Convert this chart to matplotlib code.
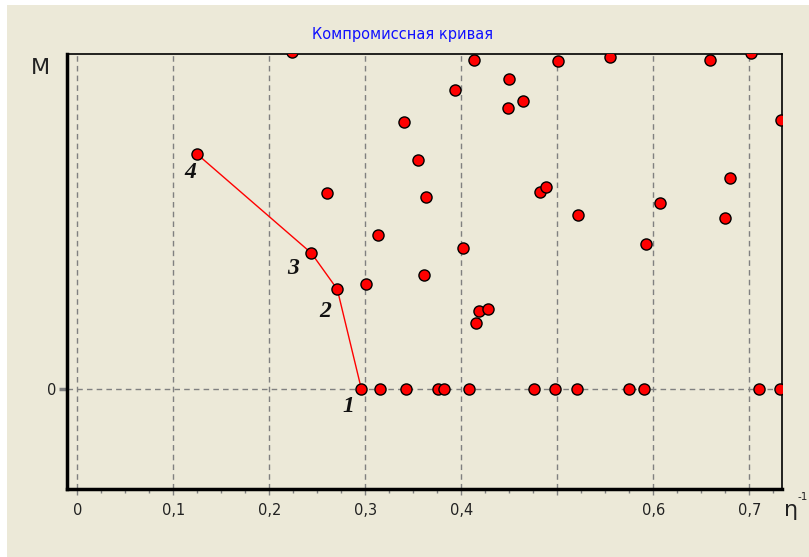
import numpy as np
import matplotlib
matplotlib.use('Agg')
import matplotlib.pyplot as plt
from matplotlib.patches import Rectangle

# Все варианты: η^-1 и M (M в условных единицах, верх графика = 10)
eta_inv = [0.3153, 0.3421, 0.3761, 0.3820, 0.4083, 0.4754, 0.4973, 0.5202, 0.5750, 0.5900, 0.7098, 0.7320,
           0.2236, 0.4136, 0.5004, 0.5546, 0.6591, 0.7018,
           0.3931, 0.4500, 0.4643, 0.4483, 0.3403, 0.7327,
           0.3549, 0.2598, 0.3629, 0.4817, 0.4882, 0.5219, 0.6070, 0.6799, 0.6750,
           0.3135, 0.4021, 0.5924, 0.3611, 0.3007, 0.4153, 0.4181, 0.4278]
M = [0, 0, 0, 0, 0, 0, 0, 0, 0, 0, 0, 0,
     10.05, 9.83, 9.80, 9.92, 9.83, 10.03,
     8.92, 9.25, 8.60, 8.39, 7.97, 8.02,
     6.83, 5.84, 5.74, 5.89, 6.02, 5.19, 5.56, 6.29, 5.11,
     4.59, 4.19, 4.33, 3.39, 3.12, 1.97, 2.33, 2.37]

# Компромиссная кривая (точки 1-4)
pareto_x = [0.2958, 0.2708, 0.2438, 0.1247]
pareto_y = [0.0, 2.97, 4.05, 7.01]
pareto_labels = ['1', '2', '3', '4']
label_offsets = [(-9, -13), (-9, -16), (-13, -11), (-5, -13)]

x_ticks = [0, 0.1, 0.2, 0.3, 0.4, 0.5, 0.6, 0.7]
x_tick_labels = ['0', '0,1', '0,2', '0,3', '0,4', '', '0,6', '0,7']

bg = '#ECE9D8'
grey = '#808080'

fig = plt.figure(figsize=(8.09, 5.57), dpi=100, facecolor='white')
fig.patches.append(Rectangle((7 / 809, 0), 1, 1 - 5 / 557, transform=fig.transFigure,
                             facecolor=bg, edgecolor='none', zorder=-10))

ax = fig.add_axes([67 / 809, 68 / 557, 714.7 / 809, 435 / 557])
ax.set_zorder(1)
ax.set_facecolor(bg)
ax.set_xlim(-0.01073, 0.73375)
ax.set_ylim(-3.0, 10.0)

# Сетка: вертикальные линии и горизонталь M = 0
for xv in x_ticks:
    ax.axvline(xv, color=grey, linestyle=(0, (4, 3)), linewidth=1, zorder=1)
ax.axhline(0, color=grey, linestyle=(0, (4, 3)), linewidth=1, zorder=1)

ax.plot(pareto_x, pareto_y, color='red', linewidth=1, zorder=2)
ax.scatter(eta_inv, M, s=64, c='red', edgecolors='black', linewidths=1, zorder=3, clip_on=True)
ax.scatter(pareto_x, pareto_y, s=64, c='red', edgecolors='black', linewidths=1, zorder=3, clip_on=True)

for px, py, lab, off in zip(pareto_x, pareto_y, pareto_labels, label_offsets):
    ax.annotate(lab, (px, py), xytext=off, textcoords='offset points', ha='center', va='center',
                fontsize=17, style='italic', fontweight='bold', family='Liberation Serif', color='#111111')

# Оси
ax.set_xticks(x_ticks)
ax.set_xticklabels(x_tick_labels)
ax.set_xticks(np.arange(0, 0.74, 0.025), minor=True)
ax.set_yticks([0])
ax.set_yticklabels(['0'])
ax.tick_params(axis='x', which='major', length=4, width=1, color=grey, pad=6, labelsize=10.5, labelcolor='#222222')
ax.tick_params(axis='x', which='minor', length=3, width=1, color=grey)
ax.tick_params(axis='y', length=6, width=2.5, color=grey, pad=2, labelsize=10.5, labelcolor='#222222')

for side in ['left', 'bottom']:
    ax.spines[side].set_linewidth(2.5)
for side in ['top', 'right']:
    ax.spines[side].set_linewidth(1.2)

fig.text(403 / 809, 1 - 35 / 557, 'Компромиссная кривая', color='#1010FF', fontsize=10.5,
         ha='center', va='center')
fig.text(40 / 809, 1 - 68 / 557, 'M', fontsize=16, ha='center', va='center', color='#222222')
# подпись оси абсцисс у правого края: η и степень -1 отдельно
fig.text(784 / 809, 1 - 510 / 557, 'η', fontsize=16, ha='left', va='center', color='#222222')
fig.text(797 / 809, 1 - 497 / 557, '-1', fontsize=7.5, ha='left', va='center', color='#222222')

fig.savefig('out.png', dpi=100, facecolor=fig.get_facecolor())
